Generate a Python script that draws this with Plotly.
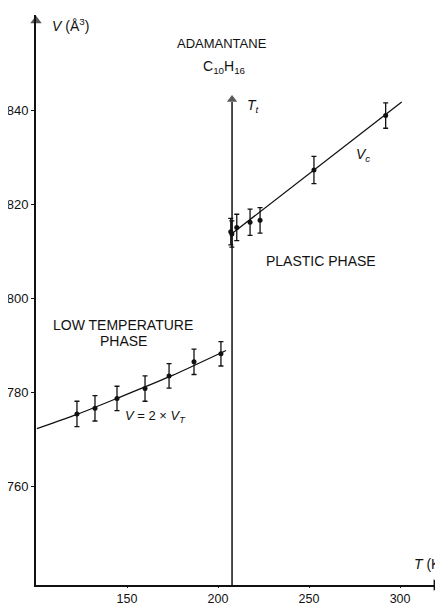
import plotly.graph_objects as go

# ---- data ----
low_T = [122.5, 132.4, 144.5, 159.9, 173.1, 186.8, 201.6]
low_V = [775.5, 776.7, 778.8, 780.9, 783.6, 786.6, 788.3]
low_err = [2.7, 2.7, 2.6, 2.7, 2.6, 2.7, 2.6]

plastic_T = [207.0, 207.6, 210.3, 217.6, 223.1, 252.7, 292.1]
plastic_V = [814.3, 813.8, 815.2, 816.3, 816.7, 827.4, 839.0]
plastic_err = [2.8, 2.8, 2.8, 2.8, 2.7, 2.9, 2.7]

low_fit_T = [100.5, 108.0, 122.5, 145.0, 175.0, 204.4]
low_fit_V = [772.4, 773.4, 775.4, 778.9, 783.7, 789.0]

plastic_fit_T = [207.7, 300.9]
plastic_fit_V = [813.9, 841.9]

T_transition = 207.7
V_transition_top = 843.4

x_ticks = [150, 200, 250, 300]
y_ticks = [760, 780, 800, 820, 840]

x_range = [100.0, 320.3]
y_range = [739.1, 860.4]

FONT = "Liberation Sans, Arial, sans-serif"
INK = "#111111"

fig = go.Figure()

# fitted curves
fig.add_trace(go.Scatter(x=low_fit_T, y=low_fit_V, mode="lines",
                         line=dict(color=INK, width=1.3, shape="spline", smoothing=0.6),
                         hoverinfo="skip", showlegend=False, cliponaxis=False))
fig.add_trace(go.Scatter(x=plastic_fit_T, y=plastic_fit_V, mode="lines",
                         line=dict(color=INK, width=1.3),
                         hoverinfo="skip", showlegend=False, cliponaxis=False))

# data points with error bars
for T, V, E in [(low_T, low_V, low_err), (plastic_T, plastic_V, plastic_err)]:
    fig.add_trace(go.Scatter(x=T, y=V, mode="markers",
                             marker=dict(color=INK, size=5),
                             error_y=dict(type="data", array=E, visible=True,
                                          color=INK, thickness=1.3, width=2.5),
                             showlegend=False))

# transition line
fig.add_trace(go.Scatter(x=[T_transition, T_transition], y=[y_range[0], V_transition_top - 1.5],
                         mode="lines", line=dict(color=INK, width=1.5),
                         hoverinfo="skip", showlegend=False, cliponaxis=False))

# arrow heads (as triangle markers at the axis ends)
fig.add_trace(go.Scatter(x=[T_transition, x_range[0]], y=[V_transition_top - 1.0, y_range[1] - 1.2],
                         mode="markers", marker=dict(symbol="triangle-up", size=[9, 10], color=INK,
                                                     line=dict(width=0)),
                         hoverinfo="skip", showlegend=False, cliponaxis=False))
fig.add_trace(go.Scatter(x=[x_range[1] - 0.5], y=[y_range[0]],
                         mode="markers", marker=dict(symbol="triangle-right", size=10, color=INK,
                                                     line=dict(width=0)),
                         hoverinfo="skip", showlegend=False, cliponaxis=False))

ann = []

def txt(x, y, t, size=13, xanchor="center"):
    ann.append(dict(x=x, y=y, xref="x", yref="y", text=t, showarrow=False,
                    xanchor=xanchor, yanchor="middle",
                    font=dict(family=FONT, size=size, color=INK)))

txt(107.7, 858.3, "<i>V</i> (Å<sup>3</sup>)", 14, "left")
txt(202.2, 854.3, "ADAMANTANE", 13)
txt(203.8, 849.4, "C<sub>10</sub>H<sub>16</sub>", 14)
txt(214.8, 841.1, "<i>T</i><sub><i>t</i></sub>", 14, "left")
txt(279.7, 830.6, "<i>V</i><sub><i>c</i></sub>", 14)
txt(256.4, 808.1, "PLASTIC PHASE", 14)
txt(148.0, 794.5, "LOW TEMPERATURE", 14)
txt(148.0, 791.1, "PHASE", 14)
txt(165.9, 775.0, "<i>V</i> = 2 × <i>V</i><sub><i>T</i></sub>", 13)
txt(306.4, 743.6, "<i>T</i> (K)", 14, "left")

# the page body has an 8 px default margin, so the figure is 8 px smaller
fig.update_layout(
    width=435, height=595,
    margin=dict(l=28, r=6, t=7, b=18, autoexpand=False),
    paper_bgcolor="white", plot_bgcolor="white",
    annotations=ann,
    xaxis=dict(range=x_range, tickvals=x_ticks, ticktext=[str(v) for v in x_ticks],
               showgrid=False, zeroline=False, showline=True, linecolor=INK, linewidth=1.5,
               ticks="outside", ticklen=1, tickcolor=INK, tickwidth=1, automargin=False,
               tickfont=dict(family=FONT, size=12.5, color=INK), fixedrange=True),
    yaxis=dict(range=y_range, tickvals=y_ticks, ticktext=[str(v) for v in y_ticks],
               showgrid=False, zeroline=False, showline=True, linecolor=INK, linewidth=2,
               ticks="outside", ticklen=3, tickcolor=INK, tickwidth=1, automargin=False,
               tickfont=dict(family=FONT, size=13, color=INK), fixedrange=True),
)

fig.write_html("out.html", config={"displayModeBar": False})
